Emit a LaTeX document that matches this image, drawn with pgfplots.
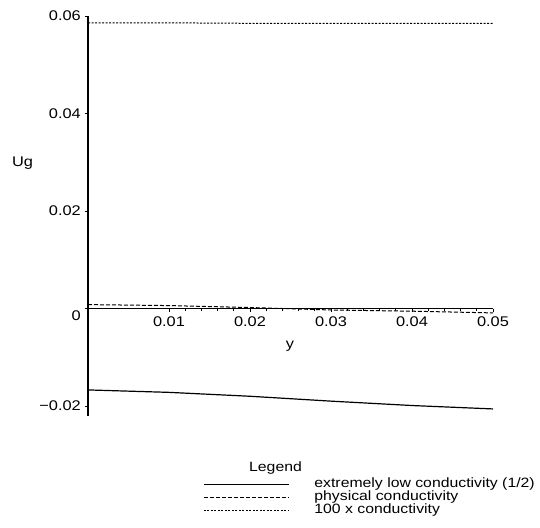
\documentclass[border=0pt]{standalone}
\usepackage{pgfplots}
\pgfplotsset{compat=1.18}
\usepackage{fontspec}
\setmainfont{Liberation Sans}[FakeStretch=1.17]
\begin{document}
\begin{tikzpicture}
\useasboundingbox (0,0) rectangle (540pt,-527pt);
\begin{axis}[
 at={(88pt,-416pt)}, anchor=south west,
 scale only axis, width=405pt, height=400pt,
 xmin=0, xmax=0.05, ymin=-0.02205, ymax=0.06,
 axis lines=middle, axis line style={-, line width=1.1pt},
 hide obscured x ticks=false, hide obscured y ticks=false,
 xtick={0.01,0.02,0.03,0.04,0.05}, ytick={-0.02,0.02,0.04,0.06},
 xticklabels={0.01,0.02,0.03,0.04,0.05}, yticklabels={−0.02,0.02,0.04,0.06},
 extra y ticks={0}, extra y tick labels={0}, extra y tick style={yticklabel style={yshift=-7pt}},
 minor x tick num=4, minor y tick num=4,
 tick align=outside, major tick length=3.5pt, minor tick length=2.5pt,
 tick style={black, line width=0.7pt},
 scaled ticks=false,
 ticklabel style={font=\fontsize{14}{16}\selectfont},
 yticklabel style={inner xsep=3.5pt},
 xticklabel style={yshift=-1.5pt},
 xlabel={y}, ylabel={Ug},
 every axis x label/.style={at={(axis description cs:0.4988,0.175)},anchor=center,font=\fontsize{14}{16}\selectfont},
 every axis y label/.style={at={(axis description cs:-0.1617,0.6325)},anchor=center,font=\fontsize{14}{16}\selectfont},
 clip=false,
 legend style={at={(axis description cs:0.284,-0.155)}, anchor=north west, draw=none, fill=none,
   inner sep=0pt, row sep=0pt, column sep=0pt,
   nodes={inner sep=0pt, text height=9.5pt, text depth=3.5pt, font=\fontsize{13.5}{15}\selectfont, anchor=west}},
 legend cell align=left,
 legend image code/.code={\draw[#1] (0pt,0pt) -- (85pt,0pt);},
]
\addplot[black, line width=1.2pt] coordinates {(0,-0.0167) (0.01,-0.0172) (0.02,-0.0180) (0.03,-0.0190) (0.04,-0.0199) (0.05,-0.0206)};
\addlegendentry{\hspace*{25pt}extremely low conductivity (1/2)}
\addplot[black, line width=1pt, dash pattern=on 4pt off 2pt] coordinates {(0,0.0008) (0.01,0.0006) (0.02,0.0002) (0.03,-0.0003) (0.04,-0.00055) (0.05,-0.0009)};
\addlegendentry{\hspace*{25pt}physical conductivity}
\addplot[black, line width=1pt, dash pattern=on 2pt off 1.5pt] coordinates {(0,0.0586) (0.01,0.0586) (0.02,0.0585) (0.03,0.0585) (0.04,0.0585) (0.05,0.0585)};
\addlegendentry{\hspace*{25pt}100 x conductivity}
\node[font=\fontsize{13.5}{15}\selectfont] at (axis description cs:0.463,-0.13) {Legend};
\end{axis}
\end{tikzpicture}
\end{document}
